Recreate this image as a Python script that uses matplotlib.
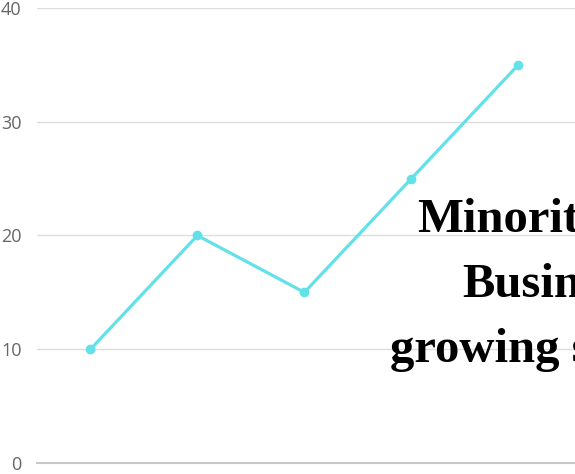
import matplotlib.pyplot as plt

# category index and values
categories = [0, 1, 2, 3, 4]
values = [10, 20, 15, 25, 35]
y_ticks = [0, 10, 20, 30, 40]

title_lines = ["Minority-owned", "Businesses", "growing steadily"]

fig = plt.figure(figsize=(5.75, 4.74), dpi=100)
ax = fig.add_axes([37/575, 11/474, 1 - 37/575, (463 - 8)/474])

ax.plot(categories, values, color='#62e1e8', linewidth=2.3, marker='o',
        markersize=6, zorder=3)

ax.set_xlim(-0.5, 4.53)
ax.set_ylim(0, 40)
ax.set_yticks(y_ticks)
ax.set_xticks([])
ax.tick_params(axis='y', length=0, pad=11, labelsize=13, labelcolor='#666666')
for lab in ax.get_yticklabels():
    lab.set_family('Open Sans')

ax.grid(axis='y', color='#dddddd', linewidth=1)
ax.set_axisbelow(True)
for s in ['top', 'right', 'left']:
    ax.spines[s].set_visible(False)
ax.spines['bottom'].set_color('#c8c8c8')
ax.spines['bottom'].set_linewidth(1.5)

# big overlay text, cut off at the right edge
xs = [417, 462, 390]
ys = [232, 297, 362]
for t, x, y in zip(title_lines, xs, ys):
    fig.text(x/575, 1 - y/474, t, family='Liberation Serif', weight='bold',
             fontsize=35, color='black', ha='left', va='baseline')

fig.savefig('out.png', dpi=100)
